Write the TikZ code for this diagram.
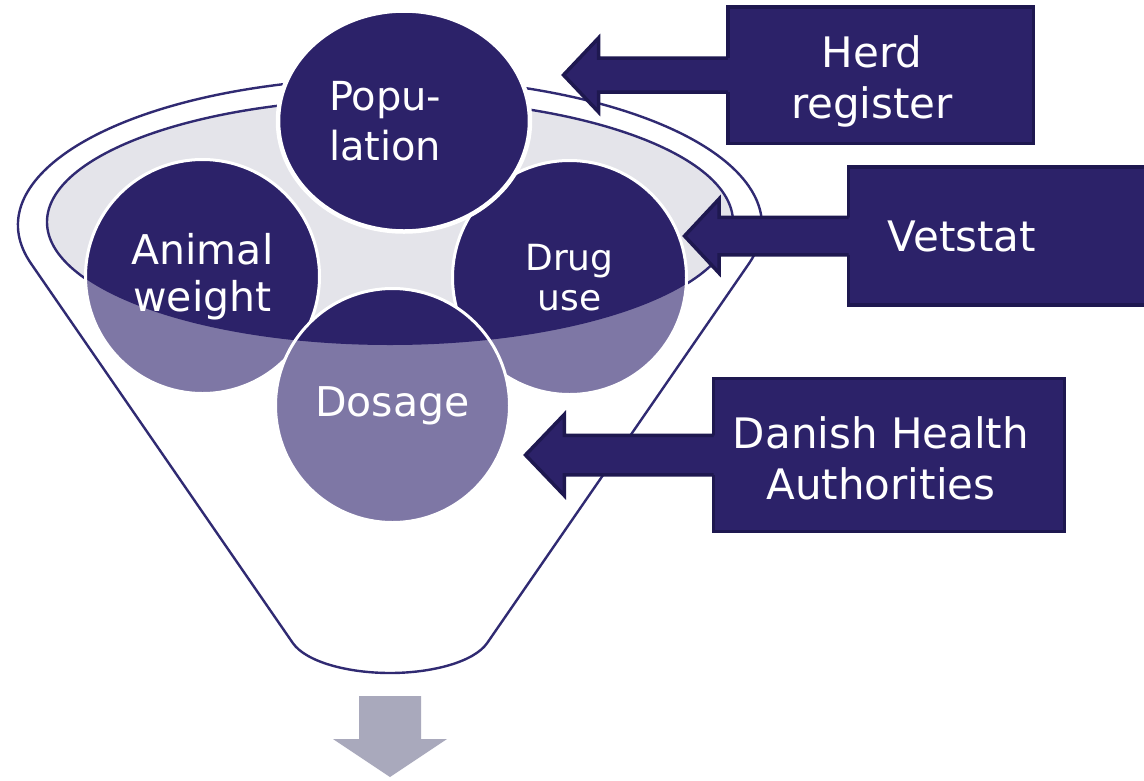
\documentclass[tikz,border=0pt]{standalone}
\usepackage{fontspec}
\setmainfont{DejaVu Sans}
\usetikzlibrary{calc,shapes.geometric}
\definecolor{dkp}{HTML}{2C2269}
\definecolor{bdp}{HTML}{1E1850}
\definecolor{ltp}{HTML}{7E77A5}
\definecolor{fnl}{HTML}{302A72}
\definecolor{rimg}{HTML}{E4E4EA}
\definecolor{outg}{HTML}{A9A9BC}
\newcommand\twotone[1]{%
  \fill[ltp] (#1) circle[radius=117];
  \begin{scope}
    \clip (rimc) ellipse [x radius=343, y radius=123];
    \fill[dkp] (#1) circle[radius=117];
  \end{scope}}
% #1 box node, #2 tip coordinate, #3 shaft half height, #4 head half height, #5 head length
\newcommand\calloutarrow[5]{%
  \fill[dkp] ($(#1.west)+(3,-#3)$) -- ($(#2)+(#5,-#3)$) -- ($(#2)+(#5,-#4)$) -- (#2)
     -- ($(#2)+(#5,#4)$) -- ($(#2)+(#5,#3)$) -- ($(#1.west)+(3,#3)$) -- cycle;
  \draw[arrowedge] ($(#1.west)+(0,-#3)$) -- ($(#2)+(#5,-#3)$) -- ($(#2)+(#5,-#4)$) -- (#2)
     -- ($(#2)+(#5,#4)$) -- ($(#2)+(#5,#3)$) -- ($(#1.west)+(0,#3)$);}
\begin{document}
\begin{tikzpicture}[x=1pt,y=-1pt,
  bubble/.style={circle, draw=white, line width=3pt, minimum size=234pt, inner sep=0pt, outer sep=0pt, text=white, align=center},
  boxstyle/.style={rectangle, fill=dkp, draw=bdp, line width=3.5pt, inner sep=0pt, outer sep=0pt},
  boxtext/.style={text=white, align=center, inner sep=0pt, font=\fontsize{42}{51.5}\selectfont},
  funnel/.style={draw=fnl, line width=2.4pt},
  arrowedge/.style={draw=bdp, line width=3.5pt, line join=miter}]
\useasboundingbox (0,0) rectangle (1144,780);
\fill[white] (0,0) rectangle (1144,780);

% funnel body
\path[funnel, fill=white] (31.2,263.8) arc[start angle=164.7, end angle=375.3, x radius=372, y radius=147]
  -- (487.2,643) .. controls (474,662) and (432,673) .. (390,673)
  .. controls (348,673) and (306,662) .. (292.8,643) -- cycle;
\coordinate (rimc) at (390,222);
\draw[funnel, fill=rimg] (rimc) ellipse [x radius=343, y radius=123];

% circles
\coordinate (awc) at (202.5,276.5);
\twotone{awc}
\node[bubble, font=\fontsize{41}{47}\selectfont] (aw) at (awc) {Animal\\weight};
\coordinate (duc) at (569.5,277.5);
\twotone{duc}
\node[bubble, font=\fontsize{36}{40}\selectfont] (du) at (duc) {Drug\\use};
\coordinate (dsc) at (392.5,405.5);
\twotone{dsc}
\node[bubble, font=\fontsize{41}{47}\selectfont] (ds) at (dsc) {Dosage};

\node[ellipse, fill=dkp, draw=white, line width=4.5pt, minimum width=252pt, minimum height=221pt,
      inner sep=0pt, text=white, align=left, font=\fontsize{40}{50}\selectfont] (pop) at (404,121)
      {Popu-\\\makebox[150pt][l]{lation}};

% callouts
\node[boxstyle, minimum width=305.5pt, minimum height=136.5pt] (hrbox) at (880.5,75) {};
\coordinate (hrtip) at (563.5,75);
\calloutarrow{hrbox}{hrtip}{17}{37}{35}
\node[boxtext] (hr) at (872,81.2) {Herd\\register};

\node[boxstyle, minimum width=310pt, minimum height=138pt] (vsbox) at (1003.5,236) {};
\coordinate (vstip) at (684.5,236);
\calloutarrow{vsbox}{vstip}{18.75}{37}{34.5}
\node[boxtext, anchor=base] (vs) at (962,251) {Vetstat};

\node[boxstyle, minimum width=351pt, minimum height=153pt] (dhbox) at (889,455) {};
\coordinate (dhtip) at (525.5,455);
\calloutarrow{dhbox}{dhtip}{19.75}{40.5}{38.75}
\node[boxtext] (dh) at (881,458.5) {Danish Health\\Authorities};

% output arrow
\fill[outg] (359,696) -- (421,696) -- (421,739) -- (447,739) -- (390,777) -- (333,739) -- (359,739) -- cycle;
\end{tikzpicture}
\end{document}
